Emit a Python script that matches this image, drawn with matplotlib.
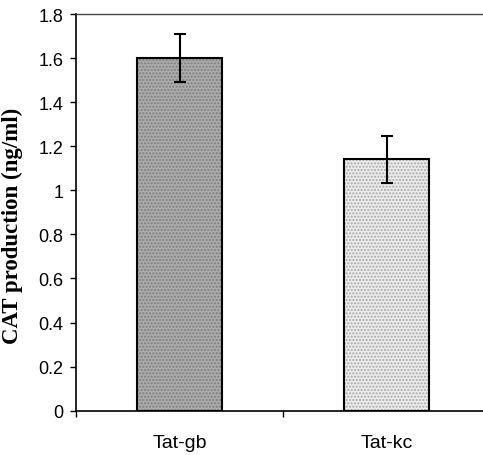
import matplotlib.pyplot as plt

# values
groups = ['Tat-gb', 'Tat-kc']
cat_ng_ml = [1.60, 1.14]
err = [0.11, 0.105]
y_ticks = [0, 0.2, 0.4, 0.6, 0.8, 1, 1.2, 1.4, 1.6, 1.8]
y_tick_labels = ['0', '0.2', '0.4', '0.6', '0.8', '1', '1.2', '1.4', '1.6', '1.8']

fills = ['#acacac', '#ececec']
specks = ['#7c7c7c', '#a8a8a8']

plt.rcParams['hatch.linewidth'] = 1.0

fig = plt.figure(figsize=(4.83, 4.56), dpi=100)
ax = fig.add_axes([76 / 483, 44.3 / 456, 414 / 483, 396.7 / 456])

x = list(range(len(groups)))
w = 0.41
ax.bar(x, cat_ng_ml, width=w, color=fills, edgecolor='none', zorder=1)
for i in x:
    # stipple texture on top of the flat fill
    ax.bar(i, cat_ng_ml[i], width=w, color='none', edgecolor=specks[i],
           hatch='.....', linewidth=0, zorder=2)
ax.bar(x, cat_ng_ml, width=w, color='none', edgecolor='black', linewidth=1.5, zorder=3)
ax.errorbar(x, cat_ng_ml, yerr=err, fmt='none', ecolor='black', elinewidth=1.5,
            capsize=4.5, capthick=1.5, zorder=4)

ax.set_xlim(-0.5, 1.5)
ax.set_ylim(0, 1.8)
ax.set_yticks(y_ticks)
ax.set_yticklabels(y_tick_labels, family='Liberation Sans', fontsize=13)
ax.set_xticks(x)
ax.set_xticklabels(groups, family='Liberation Sans', fontsize=14)
ax.set_xticks([-0.5, 0.5, 1.5], minor=True)
ax.tick_params(axis='x', which='major', length=0, pad=17)
ax.tick_params(axis='x', which='minor', length=4, width=1, direction='out')
ax.tick_params(axis='y', length=4, width=1, direction='out', pad=5)

ax.set_ylabel('CAT production (ng/ml)', family='Liberation Serif',
              fontweight='bold', fontsize=16.5)
ax.yaxis.set_label_coords(-0.128, 0.468)

ax.spines['left'].set_linewidth(1.2)
ax.spines['bottom'].set_linewidth(1.2)
ax.spines['top'].set_color('#444444')
ax.spines['top'].set_linewidth(1.0)

fig.savefig('out.png', dpi=100)
